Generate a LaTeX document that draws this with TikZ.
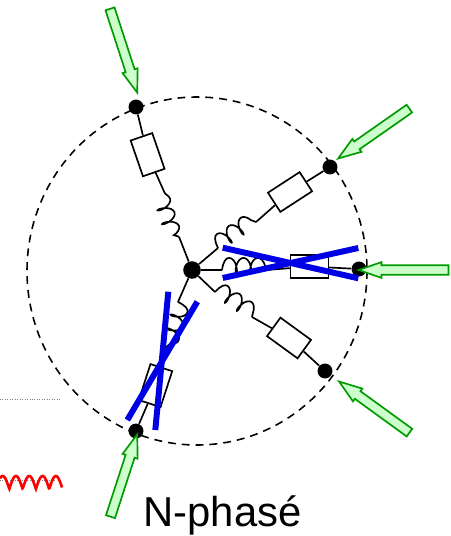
\documentclass[tikz,border=0pt]{standalone}
\usepackage{fontspec}
\setmainfont{Liberation Sans}
\usetikzlibrary{shapes.arrows,decorations.pathmorphing}
\definecolor{feedline}{RGB}{0,153,0}
\definecolor{feedfill}{RGB}{204,255,204}
\tikzset{
  wire/.style={line width=0.95pt},
  inductor/.style={line width=0.95pt,decorate,decoration={coil,amplitude=4.4pt,segment length=8.2pt,aspect=0.45,raise=#1}},
  res/.style={draw,fill=white,line width=0.95pt,minimum width=21.5pt,minimum height=13pt,inner sep=0pt},
  term/.style={circle,fill=black,minimum size=8.5pt,inner sep=0pt},
  hubdot/.style={circle,fill=black,minimum size=10pt,inner sep=0pt},
  feed/.style={single arrow,draw=feedline,fill=feedfill,line width=0.95pt,inner xsep=0pt,inner ysep=1.9pt,
    minimum width=9pt,single arrow tip angle=38,single arrow head extend=1.6pt,anchor=tip,rotate=#1},
  strike/.style={blue!90!black,line width=3.4pt}
}
\begin{document}
\begin{tikzpicture}[x=0.02cm,y=-0.02cm]
\useasboundingbox (0,0) rectangle (450,536);
\draw [gray,line width=0.4pt,densely dotted] (0,399) -- (61,399);
\draw [gray,line width=0.4pt,densely dotted] (0,480) -- (56,480);
\draw [red,line width=1.5pt] plot [domain=0:62,samples=120] (\x,{489-13*abs(sin(13.53*(\x-9.3)))});
\draw [line width=0.9pt,dash pattern=on 4.5pt off 3.4pt] (197,271) ellipse [x radius=170,y radius=174];

\node [hubdot] (hub) at (192,270) {};
\node [term] (t1) at (136,107) {};
\node [term] (t2) at (330,167) {};
\node [term] (t3) at (359,269) {};
\node [term] (t4) at (325,371) {};
\node [term] (t5) at (136,431) {};

\node [res,rotate=-71] (r1) at (147.6,154.7) {};
\node [res,rotate=33] (r2) at (290,192) {};
\node [res] (r3) at (309.5,266.5) {};
\node [res,rotate=-36] (r4) at (289,338) {};
\node [res,rotate=72] (r5) at (155.5,385.6) {};

\coordinate (l1a) at (164.7,193);
\coordinate (l1b) at (179,236.7);
\coordinate (l2a) at (218,248);
\coordinate (l2b) at (256,222);
\coordinate (l3a) at (222,270);
\coordinate (l3b) at (267,270);
\coordinate (l4a) at (215,292);
\coordinate (l4b) at (252,317);
\coordinate (l5a) at (178,302);
\coordinate (l5b) at (163,350);

\draw [wire] (t1) -- (r1) -- (l1a);
\draw [inductor=-2.5pt] (l1a) -- (l1b);
\draw [wire] (l1b) -- (hub);
\draw [wire] (hub) -- (l2a);
\draw [inductor=2.5pt] (l2a) -- (l2b);
\draw [wire] (l2b) -- (r2) -- (t2);
\draw [wire] (hub) -- (l3a);
\draw [inductor=2.5pt] (l3a) -- (l3b);
\draw [wire] (l3b) -- (r3) -- (t3);
\draw [wire] (hub) -- (l4a);
\draw [inductor=2.5pt] (l4a) -- (l4b);
\draw [wire] (l4b) -- (r4) -- (t4);
\draw [wire] (hub) -- (l5a);
\draw [inductor=2.5pt] (l5a) -- (l5b);
\draw [wire] (l5b) -- (r5) -- (t5);

\node [feed=-72,minimum height=1.76cm] (a1) at (138,95) {};
\node [feed=215,minimum height=1.74cm] (a2) at (336,160) {};
\node [feed=180,minimum height=1.8cm] (a3) at (356,270) {};
\node [feed=144,minimum height=1.74cm] (a4) at (337,380) {};
\node [feed=72,minimum height=1.73cm] (a5) at (138,432) {};

\draw [strike] (222.7,247.7) -- (358.3,278.3);
\draw [strike] (222.7,278) -- (358.3,248);
\draw [strike] (168.3,291.7) -- (155.3,430);
\draw [strike] (197.3,301.7) -- (127.3,420);

\node [anchor=base,font=\fontsize{23.8}{28}\selectfont,inner sep=0pt] (title) at (222.5,526) {N-phasé};
\end{tikzpicture}
\end{document}
